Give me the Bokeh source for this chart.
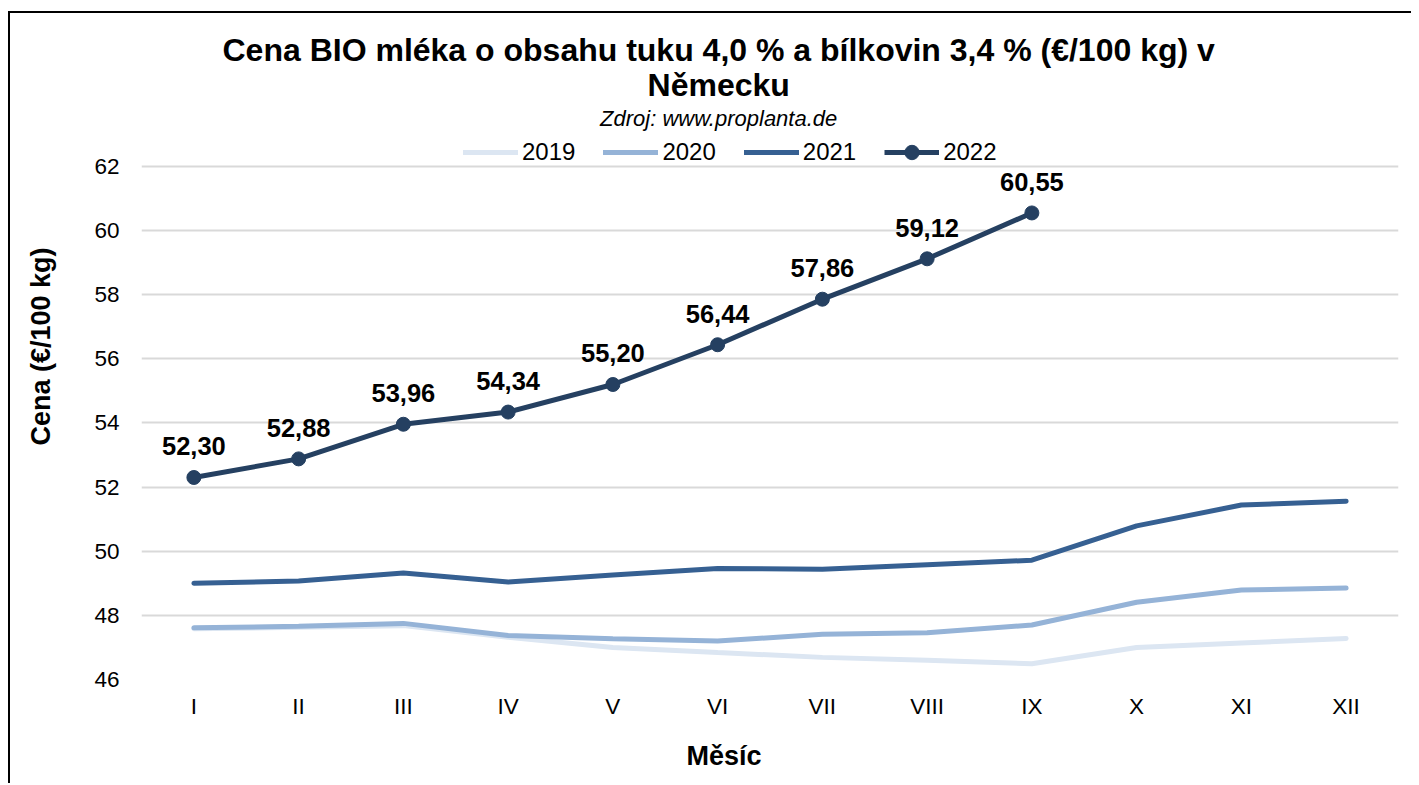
from bokeh.plotting import figure
from bokeh.models import (ColumnDataSource, Legend, LegendItem, Label, FixedTicker,
                          Range1d, FactorRange, Title)
from bokeh.core.properties import value
from bokeh.embed import file_html
from bokeh.resources import INLINE

months = ["I", "II", "III", "IV", "V", "VI", "VII", "VIII", "IX", "X", "XI", "XII"]
v2019 = [47.58, 47.63, 47.68, 47.32, 47.00, 46.84, 46.69, 46.60, 46.49, 47.00, 47.14, 47.28]
v2020 = [47.61, 47.66, 47.75, 47.37, 47.27, 47.20, 47.41, 47.46, 47.70, 48.41, 48.79, 48.85]
v2021 = [49.00, 49.07, 49.32, 49.04, 49.26, 49.46, 49.44, 49.58, 49.72, 50.79, 51.44, 51.56]
v2022 = [52.30, 52.88, 53.96, 54.34, 55.20, 56.44, 57.86, 59.12, 60.55]
y_ticks = [46, 48, 50, 52, 54, 56, 58, 60, 62]

FONT = "Liberation Sans"
colors = {"2019": "#DCE6F2", "2020": "#95B3D7", "2021": "#366092", "2022": "#254061"}

# the frame reaches up to the top of the canvas so the titles and legend can sit in it
p = figure(width=1411, height=783, x_range=FactorRange(*months),
           y_range=Range1d(46, 66.77), output_backend="svg", toolbar_location=None,
           min_border_left=131, min_border_right=23, min_border_bottom=117,
           min_border_top=0)
p.styles = {
    "padding": "13px 0px 0px 10px",
    "background": ("linear-gradient(#000, #000) 8px 11px / 2px 100% no-repeat, "
                   "linear-gradient(#000, #000) 8px 11px / 100% 2px no-repeat"),
}
p.outline_line_color = None
p.background_fill_color = "white"

src = ColumnDataSource(dict(m=months, a=v2019, b=v2020, c=v2021))
src22 = ColumnDataSource(dict(m=months[:len(v2022)], d=v2022,
                              lab=[f"{v:.2f}".replace(".", ",") for v in v2022]))

r19 = p.line("m", "a", source=src, line_width=5, line_color=colors["2019"], line_cap="round")
r20 = p.line("m", "b", source=src, line_width=5, line_color=colors["2020"], line_cap="round")
r21 = p.line("m", "c", source=src, line_width=5, line_color=colors["2021"], line_cap="round")
r22 = p.line("m", "d", source=src22, line_width=5, line_color=colors["2022"])
r22c = p.scatter("m", "d", source=src22, size=14, fill_color=colors["2022"],
                 line_color=colors["2022"])
p.text("m", "d", text="lab", source=src22, text_font=value(FONT), text_font_style="bold",
       text_font_size="25.5px", text_align="center", text_baseline="middle",
       y_offset=-31, text_color="black")

# axes
p.yaxis.ticker = FixedTicker(ticks=y_ticks)
p.ygrid.ticker = FixedTicker(ticks=y_ticks)
p.xgrid.grid_line_color = None
p.ygrid.grid_line_color = "#D9D9D9"
p.ygrid.grid_line_width = 2
for ax in (p.xaxis, p.yaxis):
    ax.axis_line_color = None
    ax.major_tick_line_color = None
    ax.minor_tick_line_color = None
    ax.major_label_text_font = FONT
    ax.major_label_text_font_size = "22.5px"
    ax.major_label_text_color = "black"
    ax.axis_label_text_font = FONT
    ax.axis_label_text_font_size = "27px"
    ax.axis_label_text_font_style = "bold"
    ax.axis_label_text_color = "black"
p.yaxis.axis_label = "Cena (€/100 kg)"
p.xaxis.major_label_standoff = 8
p.yaxis.major_label_standoff = 16
p.yaxis.axis_label_standoff = 35

# x-axis title centred on the whole chart (as in the original), not on the plot frame
p.add_layout(Title(text="Měsíc", align="left", offset=545, standoff=34,
                   text_font=FONT, text_font_size="27px", text_font_style="bold",
                   text_color="black"), "below")

legend = Legend(items=[LegendItem(label="2019", renderers=[r19]),
                       LegendItem(label="2020", renderers=[r20]),
                       LegendItem(label="2021", renderers=[r21]),
                       LegendItem(label="2022", renderers=[r22, r22c])],
                orientation="horizontal", location=(322, 509),
                label_text_font=FONT, label_text_font_size="24px",
                label_text_color="black",
                glyph_width=55, glyph_height=36, label_standoff=4, spacing=28,
                padding=0, margin=0, border_line_color=None,
                background_fill_alpha=0)
p.add_layout(legend, "center")

cx = 5.51
p.add_layout(Label(x=cx, y=65.62,
                   text="Cena BIO mléka o obsahu tuku 4,0 % a bílkovin 3,4 % (€/100 kg) v",
                   text_font=FONT, text_font_size="32px", text_font_style="bold",
                   text_align="center", text_baseline="middle", text_color="black"))
p.add_layout(Label(x=cx, y=64.53, text="Německu",
                   text_font=FONT, text_font_size="32px", text_font_style="bold",
                   text_align="center", text_baseline="middle", text_color="black"))
p.add_layout(Label(x=cx, y=63.50, text="Zdroj: www.proplanta.de",
                   text_font=FONT, text_font_size="22px", text_font_style="italic",
                   text_align="center", text_baseline="middle", text_color="black"))

open("out.html", "w").write(file_html(p, INLINE))
